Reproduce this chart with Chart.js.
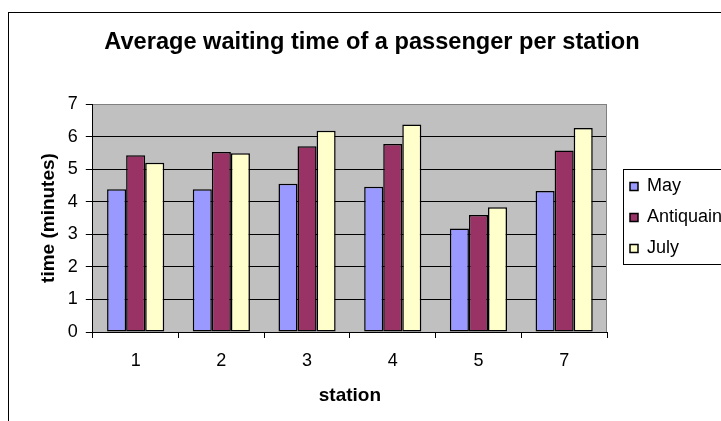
<!DOCTYPE html>
<html>
<head>
<meta charset="utf-8">
<script src="https://cdn.jsdelivr.net/npm/chart.js@4.4.0/dist/chart.umd.min.js"></script>
<style>
  html, body { margin: 0; padding: 0; background: #fff; overflow: hidden; width: 721px; height: 421px; }
  #frame { position: absolute; left: 8px; top: 12px; width: 900px; height: 600px; border: 1px solid #000; }
  #wrap { position: absolute; left: 0; top: 0; width: 760px; height: 421px; }
</style>
</head>
<body>
<div id="frame"></div>
<div id="wrap"><canvas id="c" width="760" height="421"></canvas></div>
<script>
// Stations on the x axis
const stations = ['1', '2', '3', '4', '5', '7'];
// Average waiting time (minutes) per month
const mayTimes       = [4.38, 4.38, 4.55, 4.46, 3.18, 4.33];
const antiquainTimes = [5.43, 5.53, 5.70, 5.77, 3.59, 5.57];
const julyTimes      = [5.20, 5.49, 6.18, 6.37, 3.83, 6.26];
// Value axis range
const yMin = 0, yMax = 7, yStep = 1;

const FONT = '"Liberation Sans", Arial, sans-serif';

// Grey plot area with a grey top/right edge
const plotArea = {
  id: 'plotArea',
  beforeDraw(chart) {
    const { ctx, chartArea: a } = chart;
    ctx.save();
    ctx.fillStyle = '#C0C0C0';
    ctx.fillRect(a.left, a.top, a.right - a.left, a.bottom - a.top);
    ctx.restore();
  },
  beforeDatasetsDraw(chart) {
    const { ctx, chartArea: a } = chart;
    ctx.save();
    ctx.strokeStyle = '#808080';
    ctx.lineWidth = 1;
    ctx.beginPath();
    const x = Math.round(a.right) - 0.5;
    ctx.moveTo(x, a.top);
    ctx.lineTo(x, a.bottom);
    ctx.stroke();
    ctx.restore();
  }
};

// Box drawn around the legend entries
const legendFrame = {
  id: 'legendFrame',
  afterDraw(chart) {
    const hb = chart.legend && chart.legend.legendHitBoxes;
    if (!hb || !hb.length) return;
    const { ctx } = chart;
    const first = hb[0], last = hb[hb.length - 1];
    const left = Math.round(first.left - 7) + 0.5;
    const top = Math.round(first.top - 9) + 0.5;
    const bottom = Math.round(last.top + last.height + 6) + 0.5;
    ctx.save();
    ctx.strokeStyle = '#000';
    ctx.lineWidth = 1;
    ctx.strokeRect(left, top, 300, bottom - top);
    ctx.restore();
  }
};

const barStyle = { borderColor: '#000', borderWidth: 1.5, borderSkipped: false,
                   categoryPercentage: 0.667, barPercentage: 1.0 };

new Chart(document.getElementById('c'), {
  type: 'bar',
  data: {
    labels: stations,
    datasets: [
      { label: 'May',       data: mayTimes,       backgroundColor: '#9999FF', ...barStyle },
      { label: 'Antiquain', data: antiquainTimes, backgroundColor: '#993366', ...barStyle },
      { label: 'July',      data: julyTimes,      backgroundColor: '#FFFFCC', ...barStyle }
    ]
  },
  options: {
    responsive: false,
    devicePixelRatio: 1,
    animation: false,
    layout: { padding: { left: 17, right: 33, top: 14, bottom: 0 } },
    plugins: {
      title: {
        display: true,
        text: 'Average waiting time of a passenger per station',
        color: '#000',
        font: { family: FONT, size: 23.6, weight: 'bold' },
        padding: { top: 14.8, bottom: 46.9 }
      },
      legend: {
        position: 'right',
        maxWidth: 110,
        labels: {
          color: '#000',
          font: { family: FONT, size: 18 },
          boxWidth: 8,
          boxHeight: 8,
          padding: 13
        }
      },
      tooltip: { enabled: false }
    },
    scales: {
      x: {
        grid: { display: true, drawOnChartArea: false, drawTicks: true, tickLength: 6, color: '#000', offset: true },
        border: { display: true, color: '#000', width: 1 },
        ticks: { color: '#000', font: { family: FONT, size: 18 }, padding: 12, maxRotation: 0 },
        title: { display: true, text: 'station', color: '#000',
                 font: { family: FONT, size: 19, weight: 'bold' }, padding: { top: 1, bottom: 13.6 } }
      },
      y: {
        min: yMin, max: yMax,
        ticks: { stepSize: yStep, color: '#000', font: { family: FONT, size: 18 }, padding: 8 },
        grid: { color: c => (c.tick && c.tick.value === yMax) ? '#808080' : '#000',
                tickColor: '#000', tickLength: 7, lineWidth: 1 },
        border: { display: true, color: '#000', width: 1 },
        title: { display: true, text: 'time (minutes)', color: '#000',
                 font: { family: FONT, size: 19, weight: 'bold' }, padding: { top: 20, bottom: 0 } }
      },
      yGap: {
        position: 'right',
        display: true,
        grid: { display: false, drawTicks: false },
        border: { display: false },
        ticks: { display: false },
        afterFit(scale) { scale.width = 10; }
      }
    }
  },
  plugins: [plotArea, legendFrame]
});
</script>
</body>
</html>
